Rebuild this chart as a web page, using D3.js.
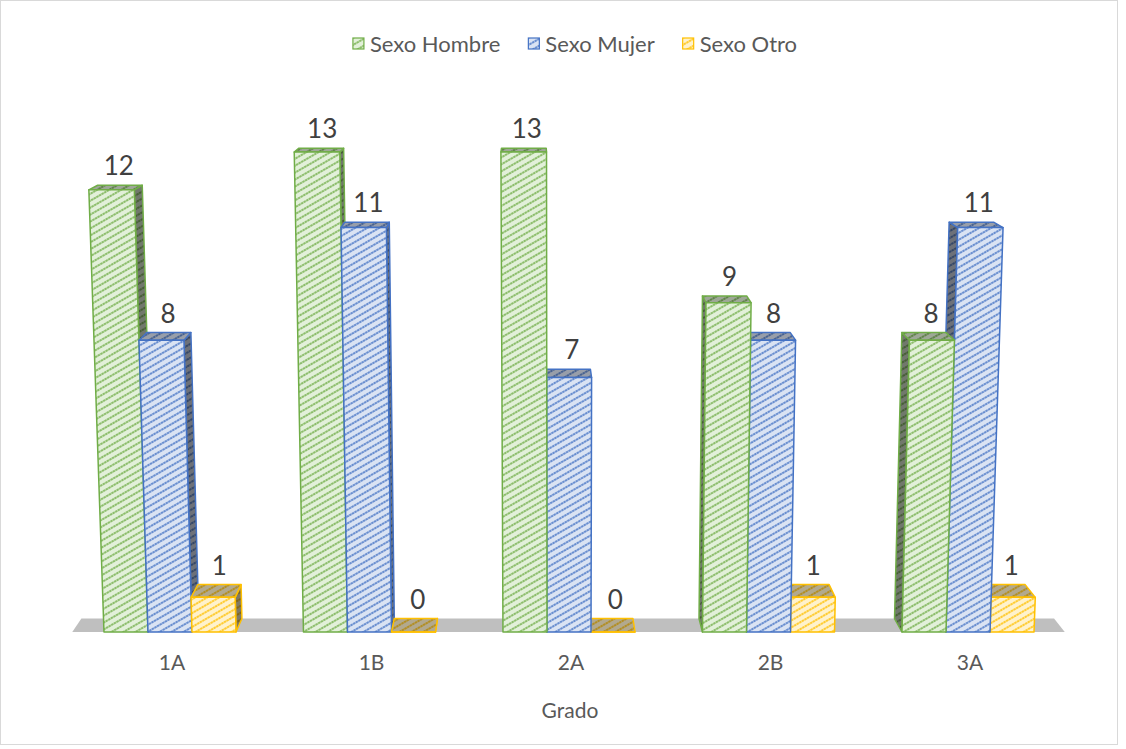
<!DOCTYPE html>
<html>
<head>
<meta charset="utf-8">
<script src="https://cdn.jsdelivr.net/npm/d3@7"></script>
<style>
  body { margin: 0; background: #fff; }
  text { font-family: Lato, "Open Sans", sans-serif; }
</style>
</head>
<body>
<div id="chart"></div>
<script>
var categories = ["1A", "1B", "2A", "2B", "3A"];
var seriesNames = ["Sexo Hombre", "Sexo Mujer", "Sexo Otro"];
var hombre = [12, 13, 13, 9, 8];
var mujer = [8, 11, 7, 8, 11];
var otro = [1, 0, 0, 1, 1];
var seriesValues = [hombre, mujer, otro];

var mainColors = ["#70AD47", "#4472C4", "#FFC000"];
var lightColors = ["#E2F0D9", "#DAE3F3", "#FFF2CC"];

var width = 1126, height = 749;
var base = 632;

// fake 3d: lean of verticals + depth towards a vanishing point
var vx = 560, lean = 7.5e-5;
var vpX = 530, vpY = -40, depth = 0.02;

function proj(x, h, back) {
  var sx = vx + (x - vx) * (1 + lean * h);
  var sy = base - h;
  if (back) {
    sx = sx + (vpX - sx) * depth;
    sy = sy + (vpY - sy) * depth;
  }
  return [sx, sy];
}

var svg = d3.select("#chart").append("svg")
  .attr("width", width)
  .attr("height", height);

svg.append("rect")
  .attr("x", 0.5).attr("y", 0.5)
  .attr("width", 1117).attr("height", 744)
  .attr("fill", "#fff")
  .attr("stroke", "#D9D9D9");

var defs = svg.append("defs");
seriesNames.forEach(function(s, i) {
  var p = defs.append("pattern")
    .attr("id", "hatch" + i)
    .attr("patternUnits", "userSpaceOnUse")
    .attr("width", 6).attr("height", 6)
    .attr("patternTransform", "rotate(-30)");
  p.append("rect").attr("width", 6).attr("height", 6).attr("fill", lightColors[i]);
  p.append("line")
    .attr("x1", 0).attr("y1", 3).attr("x2", 6).attr("y2", 3)
    .attr("stroke", mainColors[i])
    .attr("stroke-width", 1.7)
    .attr("stroke-dasharray", "2.5 0.5");
});

var x = d3.scaleBand()
  .domain(categories)
  .range([70.25, 1067.75])
  .paddingInner(0.338)
  .paddingOuter(0.169);

var xs = d3.scaleBand()
  .domain(seriesNames)
  .range([0, x.bandwidth()]);

var y = d3.scalePow()
  .exponent(1.025)
  .domain([0, 13])
  .range([0, 480]);

// floor
var floorL = x.range()[0] + 2, floorR = x.range()[1] - 3;
var floorPts = [proj(floorL, 0, false), proj(floorR, 0, false), proj(floorR, 0, true), proj(floorL, 0, true)];
svg.append("polygon")
  .attr("points", floorPts.map(function(p) { return p.join(","); }).join(" "))
  .attr("fill", "#BFBFBF");

// build bars
var bars = [];
categories.forEach(function(c, ci) {
  seriesNames.forEach(function(s, si) {
    var xl = x(c) + xs(s);
    var xr = xl + xs.bandwidth();
    bars.push({ cat: c, si: si, value: seriesValues[si][ci], xl: xl, xr: xr });
  });
});
bars.sort(function(a, b) {
  return Math.abs((b.xl + b.xr) / 2 - vpX) - Math.abs((a.xl + a.xr) / 2 - vpX);
});

function pts(arr) { return arr.map(function(p) { return p[0].toFixed(2) + "," + p[1].toFixed(2); }).join(" "); }

var g = svg.append("g");
bars.forEach(function(d) {
  var h = y(d.value);
  var fl0 = proj(d.xl, 0, false), fr0 = proj(d.xr, 0, false);
  var fl1 = proj(d.xl, h, false), fr1 = proj(d.xr, h, false);
  var bl0 = proj(d.xl, 0, true), br0 = proj(d.xr, 0, true);
  var bl1 = proj(d.xl, h, true), br1 = proj(d.xr, h, true);
  var faces = [];
  if (d.xr < vpX) faces.push({ p: [fr0, br0, br1, fr1], shade: 0.5 });
  if (d.xl > vpX) faces.push({ p: [fl0, bl0, bl1, fl1], shade: 0.5 });
  faces.push({ p: [fl1, fr1, br1, bl1], shade: 0.3 });
  faces.push({ p: [fl0, fr0, fr1, fl1], shade: 0 });
  faces.forEach(function(f) {
    g.append("polygon")
      .attr("points", pts(f.p))
      .attr("fill", "url(#hatch" + d.si + ")");
    if (f.shade > 0) {
      g.append("polygon")
        .attr("points", pts(f.p))
        .attr("fill", "#000")
        .attr("fill-opacity", f.shade);
    }
    g.append("polygon")
      .attr("points", pts(f.p))
      .attr("fill", "none")
      .attr("stroke", mainColors[d.si])
      .attr("stroke-width", 1.5)
      .attr("stroke-linejoin", "round");
  });
  d.labelX = (fl1[0] + fr1[0] + bl1[0] + br1[0]) / 4 + 3;
  d.labelY = Math.min(bl1[1], br1[1]) - 10;
});

// value labels
svg.append("g").selectAll("text")
  .data(bars)
  .enter().append("text")
  .attr("x", function(d) { return d.labelX; })
  .attr("y", function(d) { return d.labelY; })
  .attr("text-anchor", "middle")
  .attr("font-size", 26)
  .attr("fill", "#404040")
  .text(function(d) { return d.value; });

// category axis
var axis = svg.append("g")
  .attr("transform", "translate(2,655)")
  .call(d3.axisBottom(x).tickSize(0).tickPadding(0));
axis.select(".domain").remove();
axis.selectAll("text")
  .attr("font-size", 21)
  .attr("fill", "#595959")
  .style("font-family", "Lato, 'Open Sans', sans-serif");

svg.append("text")
  .attr("x", 570)
  .attr("y", 718)
  .attr("text-anchor", "middle")
  .attr("font-size", 21)
  .attr("fill", "#595959")
  .text("Grado");

// legend
var legend = svg.append("g");
var items = legend.selectAll("g")
  .data(seriesNames)
  .enter().append("g");
items.append("rect")
  .attr("width", 11).attr("height", 11)
  .attr("y", 38)
  .attr("fill", function(d, i) { return "url(#hatch" + i + ")"; })
  .attr("stroke", function(d, i) { return mainColors[i]; })
  .attr("stroke-width", 1.2);
items.append("text")
  .attr("x", 17)
  .attr("y", 51.5)
  .attr("font-size", 22)
  .attr("fill", "#595959")
  .text(function(d) { return d; });
var widths = [];
items.each(function() { widths.push(this.querySelector("text").getComputedTextLength() + 17); });
var gap = 28;
var total = d3.sum(widths) + gap * (widths.length - 1);
var lx = 575 - total / 2;
items.attr("transform", function(d, i) {
  var t = "translate(" + lx + ",0)";
  lx += widths[i] + gap;
  return t;
});
</script>
</body>
</html>
